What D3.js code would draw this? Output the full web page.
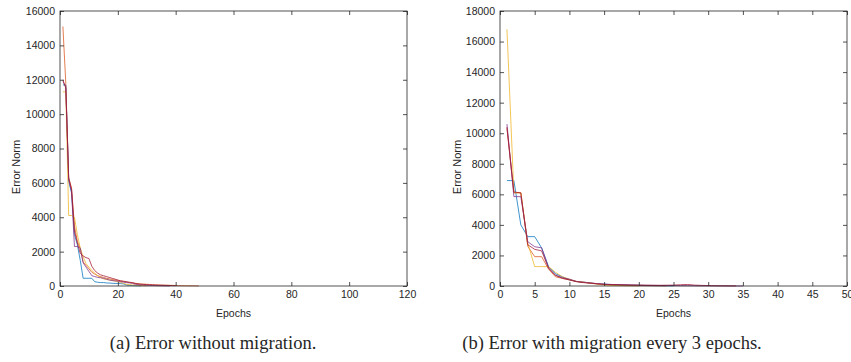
<!DOCTYPE html>
<html>
<head>
<meta charset="utf-8">
<script src="https://cdn.jsdelivr.net/npm/d3@7"></script>
<style>
  body { margin: 0; background: #fff; }
  svg text { font-family: "Liberation Sans", Arial, sans-serif; fill: #262626; }
  .caption { font-family: "Liberation Serif", "DejaVu Serif", serif; }
</style>
</head>
<body>
<svg id="chart" width="851" height="362"></svg>
<script>
// MATLAB default colour order
const seriesColors = ["#0072BD", "#D95319", "#EDB120", "#7E2F8E", "#A2142F"];

// (a) without migration, values per epoch starting at epoch 1
const leftBlue = [11700, 11700, 6100, 5400, 3000, 2400, 1500, 450, 450, 450, 450, 250, 220, 200, 200, 180, 170, 160, 150, 150, 140, 120, 60, 40, 30, 20, 15, 10];
const leftOrange = [15100, 11800, 6300, 5700, 3500, 2600, 2200, 1400, 1200, 1000, 800, 700, 600, 550, 500, 450, 420, 380, 350, 320, 290, 260, 230, 200, 180, 160, 140, 120, 110, 100, 90, 80, 70, 60, 55, 50, 45, 40, 35, 30, 25, 20, 18, 15, 12, 10, 8, 5];
const leftYellow = [11300, 11300, 4100, 4100, 4000, 3000, 2200, 1700, 1300, 1100, 900, 750, 600, 500, 420, 380, 350, 320, 280, 250, 200, 150, 100, 80, 60, 50, 40, 30, 25, 20];
const leftPurple = [11900, 11600, 6200, 5500, 2300, 2300, 2200, 1350, 1100, 850, 600, 550, 500, 480, 450, 400, 350, 320, 300, 280, 250, 220, 200, 180, 160, 100, 80, 60, 50, 40, 35, 30, 25, 20, 15, 10, 8, 5];
const leftDarkRed = [12000, 11500, 6300, 5600, 3200, 2500, 1900, 1750, 1650, 1600, 1150, 900, 750, 650, 600, 550, 500, 450, 400, 350, 300, 280, 250, 220, 200, 150, 120, 100, 90, 80, 70, 60, 55, 50, 45, 40, 35, 30, 25, 20];

// (b) with migration every 3 epochs
const rightBlue = [6900, 6900, 4000, 3230, 3230, 2490, 1270, 800, 600, 400, 300, 250, 200, 150, 120, 100, 80, 60, 50, 40, 30, 25, 20, 15, 10];
const rightOrange = [10300, 6100, 6100, 2600, 1920, 1920, 1100, 600, 500, 400, 300, 250, 200, 150, 100, 80, 60, 50, 40, 30, 25, 20, 15, 10];
const rightYellow = [16800, 6100, 6100, 2800, 1270, 1270, 1270, 900, 600, 450, 300, 250, 180, 120, 60, 40, 30, 20, 15, 10];
const rightPurple = [10600, 5850, 5850, 2900, 2570, 2500, 1200, 700, 550, 450, 300, 250, 200, 150, 120, 100, 90, 80, 70, 60, 50, 45, 40, 35, 30, 25, 20, 15, 10, 8, 6, 5, 4, 3, 2];
const rightDarkRed = [10400, 6150, 6100, 2700, 2400, 2300, 1150, 700, 500, 400, 280, 220, 180, 140, 110, 90, 80, 70, 60, 55, 50, 45, 40, 50, 60, 80, 100, 60, 40, 30, 20, 15, 10, 5];

const leftTicksX = [0, 20, 40, 60, 80, 100, 120];
const leftTicksY = [0, 2000, 4000, 6000, 8000, 10000, 12000, 14000, 16000];
const rightTicksX = [0, 5, 10, 15, 20, 25, 30, 35, 40, 45, 50];
const rightTicksY = [0, 2000, 4000, 6000, 8000, 10000, 12000, 14000, 16000, 18000];

const svg = d3.select("#chart");
svg.append("rect").attr("width", 851).attr("height", 362).attr("fill", "#fff");

function buildPanel(cfg) {
  const x = d3.scaleLinear().domain(cfg.xDomain).range([cfg.left, cfg.right]);
  const y = d3.scaleLinear().domain(cfg.yDomain).range([cfg.bottom, cfg.top]);
  const g = svg.append("g");

  const line = d3.line()
    .x((d, i) => x(i + 1))
    .y(d => y(d));

  g.selectAll("path.series")
    .data(cfg.series)
    .join("path")
    .attr("class", "series")
    .attr("d", d => line(d))
    .attr("fill", "none")
    .attr("stroke", (d, i) => seriesColors[i])
    .attr("stroke-width", 1)
    .attr("stroke-opacity", 0.75);

  // inward ticks on all four sides, MATLAB style
  const styleAxis = sel => {
    sel.select(".domain").remove();
    sel.selectAll(".tick line").attr("stroke", "#262626").attr("stroke-width", 0.8);
    sel.selectAll(".tick text").attr("font-size", 10.5).attr("fill", "#262626");
  };
  const fmt = d3.format("d");

  g.append("g")
    .attr("transform", `translate(0,${cfg.bottom})`)
    .call(d3.axisBottom(x).tickValues(cfg.xTicks).tickFormat(fmt).tickSizeInner(-4).tickSizeOuter(0).tickPadding(5))
    .call(styleAxis);
  g.append("g")
    .attr("transform", `translate(0,${cfg.top})`)
    .call(d3.axisTop(x).tickValues(cfg.xTicks).tickSizeInner(-4).tickSizeOuter(0).tickFormat(""))
    .call(styleAxis);
  g.append("g")
    .attr("transform", `translate(${cfg.left},0)`)
    .call(d3.axisLeft(y).tickValues(cfg.yTicks).tickFormat(fmt).tickSizeInner(-4).tickSizeOuter(0).tickPadding(5))
    .call(styleAxis);
  g.append("g")
    .attr("transform", `translate(${cfg.right},0)`)
    .call(d3.axisRight(y).tickValues(cfg.yTicks).tickSizeInner(-4).tickSizeOuter(0).tickFormat(""))
    .call(styleAxis);

  g.append("rect")
    .attr("x", cfg.left)
    .attr("y", cfg.top)
    .attr("width", cfg.right - cfg.left)
    .attr("height", cfg.bottom - cfg.top)
    .attr("fill", "none")
    .attr("stroke", "#262626")
    .attr("stroke-width", 0.8);

  g.append("text")
    .attr("x", (cfg.left + cfg.right) / 2)
    .attr("y", 317)
    .attr("text-anchor", "middle")
    .attr("font-size", 10.5)
    .text("Epochs");

  g.append("text")
    .attr("transform", `translate(${cfg.yLabelX},167) rotate(-90)`)
    .attr("text-anchor", "middle")
    .attr("dominant-baseline", "central")
    .attr("font-size", 11)
    .text("Error Norm");

  g.append("text")
    .attr("class", "caption")
    .attr("x", cfg.captionX)
    .attr("y", 349)
    .attr("text-anchor", "middle")
    .attr("font-size", 18.5)
    .text(cfg.caption);
}

buildPanel({
  xDomain: [0, 120], yDomain: [0, 16000],
  left: 60, right: 407, top: 11, bottom: 286,
  xTicks: leftTicksX, yTicks: leftTicksY,
  series: [leftBlue, leftOrange, leftYellow, leftPurple, leftDarkRed],
  yLabelX: 16, captionX: 213,
  caption: "(a) Error without migration."
});

buildPanel({
  xDomain: [0, 50], yDomain: [0, 18000],
  left: 500, right: 847, top: 11, bottom: 286,
  xTicks: rightTicksX, yTicks: rightTicksY,
  series: [rightBlue, rightOrange, rightYellow, rightPurple, rightDarkRed],
  yLabelX: 457, captionX: 612,
  caption: "(b) Error with migration every 3 epochs."
});
</script>
</body>
</html>
